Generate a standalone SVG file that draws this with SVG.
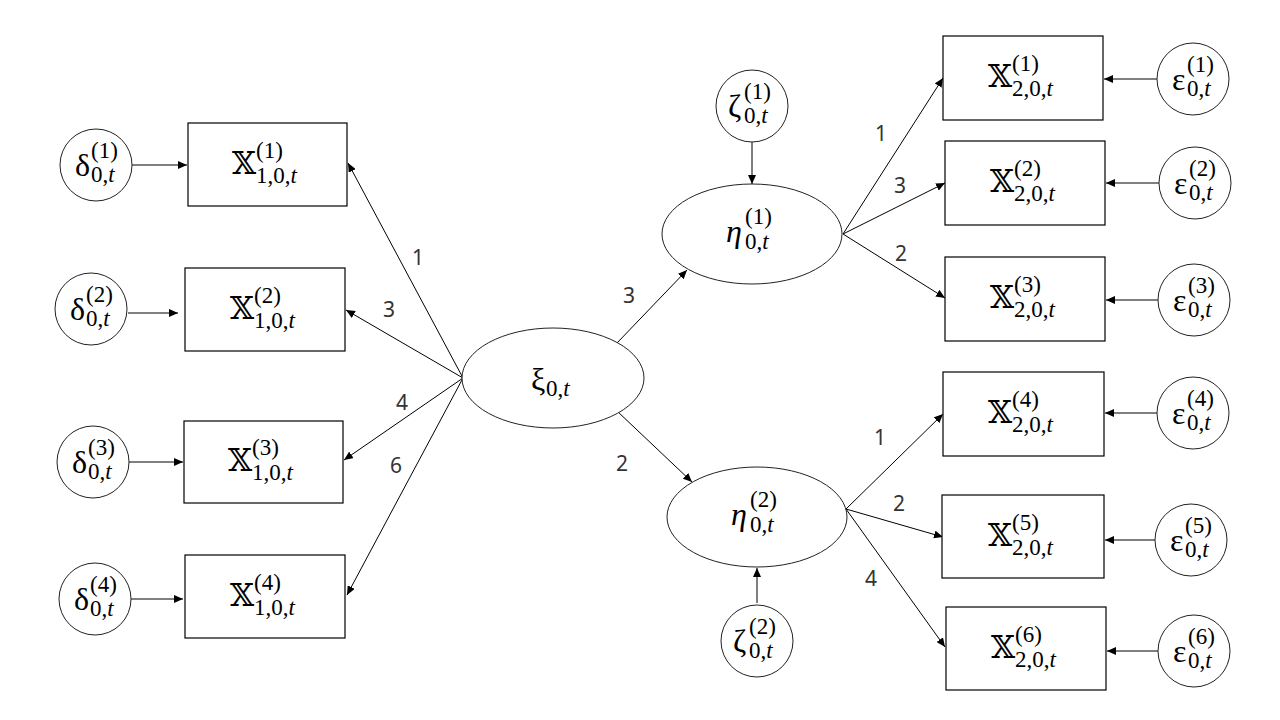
<svg xmlns="http://www.w3.org/2000/svg" width="1280" height="720" viewBox="0 0 1280 720">
<style>
.bg{fill:#fff}
.box{fill:#fff;stroke:#000;stroke-width:1.2}
.circ{fill:#fff;stroke:#222;stroke-width:1}
.edge{stroke:#000;stroke-width:1;fill:none;marker-end:url(#ah)}
.m{font-family:"Liberation Serif","DejaVu Serif",serif;font-size:32px;fill:#000}
.x{font-family:"DejaVu Serif","DejaVu Sans",serif;font-size:31px;fill:#000}
.s{font-family:"Liberation Serif","DejaVu Serif",serif;font-size:23px;fill:#000}
.it{font-style:italic}
.lab{font-family:"Noto Sans","Liberation Sans",sans-serif;font-size:21px;fill:#333;text-anchor:middle}
</style>
<defs>
<marker id="ah" markerWidth="10" markerHeight="8" refX="9" refY="4" orient="auto" markerUnits="userSpaceOnUse">
<path d="M0,0 L9,4 L0,8 z" fill="#000"/>
</marker>
</defs>
<rect class="bg" x="0" y="0" width="1280" height="720"/>

<g id="connectors">
<line class="edge" x1="132" y1="165" x2="187" y2="165"/>
<line class="edge" x1="128" y1="313" x2="178" y2="313"/>
<line class="edge" x1="129" y1="462" x2="183" y2="462"/>
<line class="edge" x1="131" y1="599" x2="183" y2="599"/>
<line class="edge" x1="463" y1="378" x2="348" y2="163"/>
<line class="edge" x1="463" y1="378" x2="346" y2="310"/>
<line class="edge" x1="463" y1="378" x2="344" y2="460"/>
<line class="edge" x1="463" y1="378" x2="347" y2="595"/>
<line class="edge" x1="617" y1="343" x2="687" y2="270"/>
<line class="edge" x1="617" y1="411" x2="692" y2="482"/>
<line class="edge" x1="752" y1="142" x2="752" y2="184"/>
<line class="edge" x1="757" y1="603" x2="757" y2="568"/>
<line class="edge" x1="843" y1="234" x2="943" y2="78"/>
<line class="edge" x1="843" y1="234" x2="945" y2="183"/>
<line class="edge" x1="843" y1="234" x2="945" y2="298"/>
<line class="edge" x1="846" y1="509" x2="943" y2="414"/>
<line class="edge" x1="846" y1="509" x2="943" y2="537"/>
<line class="edge" x1="846" y1="509" x2="945" y2="647"/>
<line class="edge" x1="1157" y1="79" x2="1104" y2="79"/>
<line class="edge" x1="1159" y1="183" x2="1106" y2="183"/>
<line class="edge" x1="1158" y1="300" x2="1106" y2="300"/>
<line class="edge" x1="1157" y1="413" x2="1105" y2="413"/>
<line class="edge" x1="1155" y1="540" x2="1105" y2="540"/>
<line class="edge" x1="1158" y1="651" x2="1107" y2="651"/>
<text class="lab" x="418" y="265">1</text>
<text class="lab" x="389" y="317">3</text>
<text class="lab" x="402" y="410">4</text>
<text class="lab" x="396" y="473">6</text>
<text class="lab" x="629" y="303">3</text>
<text class="lab" x="622" y="471">2</text>
<text class="lab" x="881" y="141">1</text>
<text class="lab" x="900" y="193">3</text>
<text class="lab" x="901" y="261">2</text>
<text class="lab" x="880" y="445">1</text>
<text class="lab" x="899" y="511">2</text>
<text class="lab" x="871" y="586">4</text>
</g>

<g id="delta1"><circle class="circ" cx="96" cy="165" r="36"/><text class="m" x="75" y="176">δ</text><text class="s" x="91" y="158">(1)</text><text class="s" x="91" y="182">0,<tspan class="it">t</tspan></text></g>
<g id="delta2"><circle class="circ" cx="91" cy="309" r="36"/><text class="m" x="70" y="320">δ</text><text class="s" x="86" y="302">(2)</text><text class="s" x="86" y="326">0,<tspan class="it">t</tspan></text></g>
<g id="delta3"><circle class="circ" cx="93" cy="462" r="36"/><text class="m" x="72" y="473">δ</text><text class="s" x="88" y="455">(3)</text><text class="s" x="88" y="479">0,<tspan class="it">t</tspan></text></g>
<g id="delta4"><circle class="circ" cx="95" cy="599" r="36"/><text class="m" x="74" y="610">δ</text><text class="s" x="90" y="592">(4)</text><text class="s" x="90" y="616">0,<tspan class="it">t</tspan></text></g>

<g id="X1_1"><rect class="box" x="188" y="123" width="159" height="83"/><text class="x" x="232" y="174">𝕏</text><text class="s" x="256" y="158">(1)</text><text class="s" x="256" y="183">1,0,<tspan class="it">t</tspan></text></g>
<g id="X1_2"><rect class="box" x="185" y="268" width="160" height="83"/><text class="x" x="230" y="319">𝕏</text><text class="s" x="254" y="303">(2)</text><text class="s" x="254" y="328">1,0,<tspan class="it">t</tspan></text></g>
<g id="X1_3"><rect class="box" x="184" y="421" width="159" height="82"/><text class="x" x="228" y="471">𝕏</text><text class="s" x="252" y="455">(3)</text><text class="s" x="252" y="480">1,0,<tspan class="it">t</tspan></text></g>
<g id="X1_4"><rect class="box" x="185" y="555" width="160" height="83"/><text class="x" x="230" y="606">𝕏</text><text class="s" x="254" y="590">(4)</text><text class="s" x="254" y="615">1,0,<tspan class="it">t</tspan></text></g>

<g id="xi"><ellipse class="circ" cx="553" cy="378" rx="91" ry="50"/><text class="m" x="531" y="390">ξ</text><text class="s" x="546" y="396">0,<tspan class="it">t</tspan></text></g>

<g id="eta1"><ellipse class="circ" cx="752" cy="234" rx="90" ry="50"/><text class="m it" x="726" y="242">η</text><text class="s" x="745" y="224">(1)</text><text class="s" x="745" y="249">0,<tspan class="it">t</tspan></text></g>
<g id="eta2"><ellipse class="circ" cx="757" cy="517" rx="90" ry="50"/><text class="m it" x="731" y="525">η</text><text class="s" x="750" y="507">(2)</text><text class="s" x="750" y="532">0,<tspan class="it">t</tspan></text></g>

<g id="zeta1"><circle class="circ" cx="752" cy="106" r="36"/><text class="m" x="728" y="117">ζ</text><text class="s" x="744" y="99">(1)</text><text class="s" x="744" y="123">0,<tspan class="it">t</tspan></text></g>
<g id="zeta2"><circle class="circ" cx="757" cy="641" r="36"/><text class="m" x="733" y="652">ζ</text><text class="s" x="749" y="634">(2)</text><text class="s" x="749" y="658">0,<tspan class="it">t</tspan></text></g>

<g id="X2_1"><rect class="box" x="943" y="36" width="160" height="84"/><text class="x" x="988" y="87">𝕏</text><text class="s" x="1012" y="71">(1)</text><text class="s" x="1012" y="96">2,0,<tspan class="it">t</tspan></text></g>
<g id="X2_2"><rect class="box" x="945" y="141" width="160" height="84"/><text class="x" x="990" y="192">𝕏</text><text class="s" x="1014" y="176">(2)</text><text class="s" x="1014" y="201">2,0,<tspan class="it">t</tspan></text></g>
<g id="X2_3"><rect class="box" x="945" y="257" width="160" height="84"/><text class="x" x="990" y="308">𝕏</text><text class="s" x="1014" y="292">(3)</text><text class="s" x="1014" y="317">2,0,<tspan class="it">t</tspan></text></g>
<g id="X2_4"><rect class="box" x="943" y="372" width="161" height="84"/><text class="x" x="988" y="423">𝕏</text><text class="s" x="1012" y="407">(4)</text><text class="s" x="1012" y="432">2,0,<tspan class="it">t</tspan></text></g>
<g id="X2_5"><rect class="box" x="942" y="495" width="162" height="83"/><text class="x" x="988" y="546">𝕏</text><text class="s" x="1012" y="530">(5)</text><text class="s" x="1012" y="555">2,0,<tspan class="it">t</tspan></text></g>
<g id="X2_6"><rect class="box" x="946" y="607" width="160" height="83"/><text class="x" x="991" y="658">𝕏</text><text class="s" x="1015" y="642">(6)</text><text class="s" x="1015" y="667">2,0,<tspan class="it">t</tspan></text></g>

<g id="eps1"><circle class="circ" cx="1193" cy="79" r="36"/><text class="m" x="1172" y="90">ε</text><text class="s" x="1187" y="72">(1)</text><text class="s" x="1187" y="96">0,<tspan class="it">t</tspan></text></g>
<g id="eps2"><circle class="circ" cx="1195" cy="183" r="36"/><text class="m" x="1174" y="194">ε</text><text class="s" x="1189" y="176">(2)</text><text class="s" x="1189" y="200">0,<tspan class="it">t</tspan></text></g>
<g id="eps3"><circle class="circ" cx="1194" cy="300" r="36"/><text class="m" x="1173" y="311">ε</text><text class="s" x="1188" y="293">(3)</text><text class="s" x="1188" y="317">0,<tspan class="it">t</tspan></text></g>
<g id="eps4"><circle class="circ" cx="1193" cy="413" r="36"/><text class="m" x="1172" y="424">ε</text><text class="s" x="1187" y="406">(4)</text><text class="s" x="1187" y="430">0,<tspan class="it">t</tspan></text></g>
<g id="eps5"><circle class="circ" cx="1191" cy="540" r="36"/><text class="m" x="1170" y="551">ε</text><text class="s" x="1185" y="533">(5)</text><text class="s" x="1185" y="557">0,<tspan class="it">t</tspan></text></g>
<g id="eps6"><circle class="circ" cx="1194" cy="651" r="36"/><text class="m" x="1173" y="662">ε</text><text class="s" x="1188" y="644">(6)</text><text class="s" x="1188" y="668">0,<tspan class="it">t</tspan></text></g>
</svg>
